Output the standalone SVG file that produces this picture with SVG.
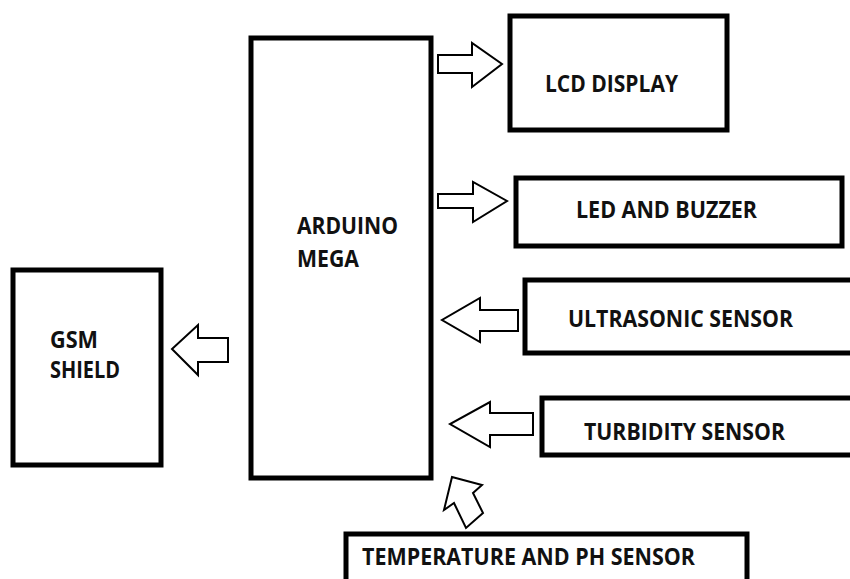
<svg xmlns="http://www.w3.org/2000/svg" width="850" height="579" viewBox="0 0 850 579">
<style>
.box{fill:#fff;stroke:#000;stroke-width:5}
.arr{fill:#fff;stroke:#000;stroke-width:2;stroke-linejoin:miter}
.t{font-family:"Open Sans","Liberation Sans",sans-serif;font-weight:bold;font-size:24px;fill:#111}
</style>
<rect width="850" height="579" fill="#fff"/>
<g id="arduino"><rect class="box" x="251" y="38" width="180" height="440"/>
<text class="t" x="297" y="234" textLength="101" lengthAdjust="spacingAndGlyphs">ARDUINO</text>
<text class="t" x="297" y="267" textLength="62" lengthAdjust="spacingAndGlyphs">MEGA</text></g>
<g id="lcd"><rect class="box" x="510" y="16" width="217" height="114"/>
<text class="t" x="545" y="92" textLength="133" lengthAdjust="spacingAndGlyphs">LCD DISPLAY</text></g>
<g id="led"><rect class="box" x="516" y="178" width="326" height="68"/>
<text class="t" x="576" y="218" textLength="181" lengthAdjust="spacingAndGlyphs">LED AND BUZZER</text></g>
<g id="ultrasonic"><rect class="box" x="525" y="280" width="340" height="73"/>
<text class="t" x="568" y="327" textLength="225" lengthAdjust="spacingAndGlyphs">ULTRASONIC SENSOR</text></g>
<g id="turbidity"><rect class="box" x="542" y="398" width="320" height="57"/>
<text class="t" x="584" y="440" textLength="201" lengthAdjust="spacingAndGlyphs">TURBIDITY SENSOR</text></g>
<g id="temperature"><rect class="box" x="346" y="534" width="401" height="60"/>
<text class="t" x="362" y="565" textLength="333" lengthAdjust="spacingAndGlyphs">TEMPERATURE AND PH SENSOR</text></g>
<g id="gsm"><rect class="box" x="13" y="270" width="148" height="195"/>
<text class="t" x="50" y="348" textLength="48" lengthAdjust="spacingAndGlyphs">GSM</text>
<text class="t" x="50" y="378" textLength="70" lengthAdjust="spacingAndGlyphs">SHIELD</text></g>
<g id="connectors">
<polygon class="arr" points="438,55 472,55 472,43 502,64 472,87 472,73 438,73"/>
<polygon class="arr" points="438,194 473,194 473,182 507,201 473,222 473,208 438,208"/>
<polygon class="arr" points="518,310 480,310 480,298 442,320 480,342 480,331 518,331"/>
<polygon class="arr" points="533,413 490,413 490,402 450,424 490,447 490,435 533,435"/>
<polygon class="arr" points="228,338 198,338 198,325 172,349 198,375 198,362 228,362"/>
<polygon class="arr" points="452,477 482,485 473,493 483,513 466,528 454,503 444,510"/>
</g>
</svg>
